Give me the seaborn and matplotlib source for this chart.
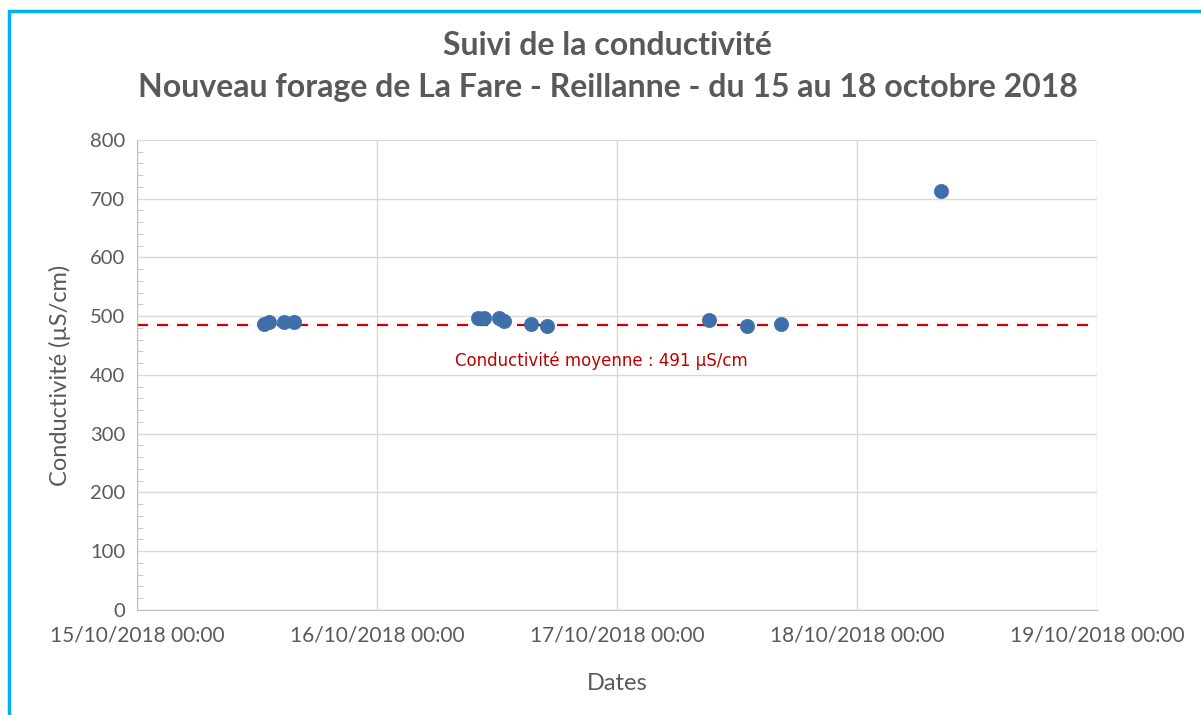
import pandas as pd
import numpy as np
import matplotlib
matplotlib.use("Agg")
import matplotlib.pyplot as plt
import matplotlib.dates as mdates
from matplotlib.ticker import MultipleLocator
from matplotlib.patches import Rectangle
import seaborn as sns

dates = [
    "2018-10-15 12:40", "2018-10-15 13:10", "2018-10-15 14:40", "2018-10-15 15:40",
    "2018-10-16 10:05", "2018-10-16 10:40", "2018-10-16 12:10", "2018-10-16 12:40",
    "2018-10-16 15:25", "2018-10-16 17:00",
    "2018-10-17 09:10", "2018-10-17 13:00", "2018-10-17 16:25",
    "2018-10-18 08:25",
]
conductivity = [487, 490, 490, 490, 497, 497, 497, 492, 487, 483, 494, 483, 487, 713]

mean_line = 485
mean_label = 491
x_start = "2018-10-15"
x_end = "2018-10-19"

df = pd.DataFrame({"date": pd.to_datetime(dates), "cond": conductivity})

sns.set_style("white")
plt.rcParams["font.family"] = ["Lato", "DejaVu Sans"]

fig = plt.figure(figsize=(12.01, 7.15), dpi=100)
ax = fig.add_axes([0.1141, 0.1469, 0.7993, 0.6573])

sns.scatterplot(data=df, x="date", y="cond", ax=ax, s=105, color="#3F6FAA",
                edgecolor="#3F6FAA", linewidth=0.5, zorder=3)

# mean line + label
ax.axhline(mean_line, color="#D40000", linestyle=(0, (5, 4)), linewidth=1.6, zorder=2)
ax.text(pd.Timestamp("2018-10-16 22:24"), 425, f"Conductivité moyenne : {mean_label} µS/cm",
        color="#C00000", fontsize=12, ha="center", va="center", family=["DejaVu Sans"])

ax.set_xlim(pd.Timestamp(x_start), pd.Timestamp(x_end))
ax.set_ylim(0, 800)
ax.xaxis.set_major_locator(mdates.DayLocator())
ax.xaxis.set_major_formatter(mdates.DateFormatter("%d/%m/%Y %H:%M"))
ax.yaxis.set_major_locator(MultipleLocator(100))
ax.yaxis.set_minor_locator(MultipleLocator(20))

ax.grid(True, which="major", color="#D9D9D9", linewidth=1)
for s in ["top", "right"]:
    ax.spines[s].set_visible(False)
for s in ["left", "bottom"]:
    ax.spines[s].set_color("#BFBFBF")

ax.tick_params(axis="both", which="major", labelcolor="#595959",
               color="#BFBFBF", length=5)
ax.tick_params(axis="x", labelsize=15, pad=6)
ax.tick_params(axis="y", labelsize=14.5)
ax.tick_params(axis="y", which="minor", direction="in", length=4, color="#BFBFBF", left=True)

ax.set_xlabel("Dates", fontsize=17, color="#595959", labelpad=20)
ax.set_ylabel("Conductivité (µS/cm)", fontsize=17, color="#595959", labelpad=14)

fig.text(0.506, 0.937, "Suivi de la conductivité", ha="center", va="center",
         fontsize=23, fontweight="bold", color="#595959")
fig.text(0.506, 0.877, "Nouveau forage de La Fare - Reillanne - du 15 au 18 octobre 2018",
         ha="center", va="center", fontsize=23, fontweight="bold", color="#595959")

# blue frame around the chart
fig.patches.append(Rectangle((9 / 1201, -0.05), 1.2, 1 - 11 / 715 + 0.05,
                             transform=fig.transFigure, fill=False,
                             edgecolor="#00B0F0", linewidth=2.5))

fig.savefig("out.png", dpi=100)
